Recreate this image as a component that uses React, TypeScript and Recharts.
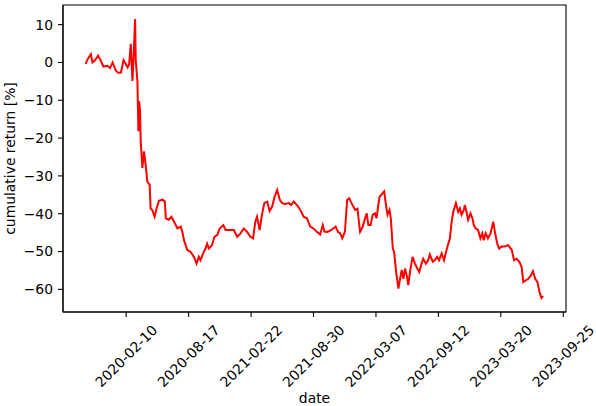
import React from "react";
import { LineChart, Line, XAxis, YAxis, ReferenceArea } from "recharts";

const dates: string[] = [
  "2019-10-11","2019-10-14","2019-10-26","2019-10-31","2019-11-07","2019-11-17","2019-11-25","2019-12-03","2019-12-16","2019-12-23",
  "2019-12-31","2020-01-10","2020-01-17","2020-01-25","2020-02-02","2020-02-09","2020-02-14","2020-02-19","2020-02-24","2020-02-29",
  "2020-03-03","2020-03-08","2020-03-10","2020-03-15","2020-03-18","2020-03-20","2020-03-23","2020-03-25","2020-03-30","2020-04-04",
  "2020-04-09","2020-04-14","2020-04-21","2020-04-24","2020-04-29","2020-05-06","2020-05-12","2020-05-19","2020-05-30","2020-06-06",
  "2020-06-09","2020-06-18","2020-06-26","2020-07-04","2020-07-14","2020-07-24","2020-07-29","2020-08-03","2020-08-13","2020-08-23",
  "2020-09-02","2020-09-10","2020-09-17","2020-09-22","2020-09-30","2020-10-07","2020-10-12","2020-10-17","2020-10-27","2020-11-03",
  "2020-11-12","2020-11-19","2020-11-30","2020-12-07","2020-12-17","2021-01-01","2021-01-11","2021-01-21","2021-01-31","2021-02-10",
  "2021-02-20","2021-02-28","2021-03-07","2021-03-12","2021-03-20","2021-03-27","2021-04-03","2021-04-12","2021-04-19","2021-04-27",
  "2021-05-04","2021-05-12","2021-05-20","2021-05-27","2021-06-06","2021-06-16","2021-06-23","2021-07-01","2021-07-11","2021-07-21",
  "2021-07-31","2021-08-10","2021-08-20","2021-08-30","2021-09-09","2021-09-19","2021-09-27","2021-10-02","2021-10-12","2021-10-23",
  "2021-11-05","2021-11-12","2021-11-19","2021-11-25","2021-12-03","2021-12-10","2021-12-16","2021-12-23","2022-01-03","2022-01-10",
  "2022-01-18","2022-01-26","2022-02-02","2022-02-07","2022-02-12","2022-02-19","2022-02-25","2022-03-04","2022-03-09","2022-03-14",
  "2022-03-18","2022-03-23","2022-04-01","2022-04-07","2022-04-11","2022-04-17","2022-04-21","2022-04-27","2022-05-01","2022-05-07",
  "2022-05-14","2022-05-19","2022-05-24","2022-05-29","2022-06-03","2022-06-08","2022-06-13","2022-06-18","2022-06-26","2022-07-03",
  "2022-07-10","2022-07-16","2022-07-23","2022-07-28","2022-08-05","2022-08-12","2022-08-17","2022-08-26","2022-09-01","2022-09-08",
  "2022-09-14","2022-09-22","2022-09-29","2022-10-05","2022-10-12","2022-10-17","2022-10-22","2022-10-27","2022-11-04","2022-11-11",
  "2022-11-16","2022-11-21","2022-11-28","2022-12-01","2022-12-06","2022-12-11","2022-12-18","2022-12-24","2022-12-28","2023-01-03",
  "2023-01-10","2023-01-17","2023-01-23","2023-01-27","2023-02-02","2023-02-09","2023-02-17","2023-02-25","2023-03-02","2023-03-09",
  "2023-03-15","2023-03-22","2023-04-01","2023-04-11","2023-04-22","2023-04-29","2023-05-07","2023-05-15","2023-05-22","2023-05-27",
  "2023-06-04","2023-06-11","2023-06-19","2023-06-25","2023-07-02","2023-07-09","2023-07-15","2023-07-21","2023-07-26",
];

const cumulativeReturn: number[] = [
  -0.4,0.5,2.2,0.0,0.5,1.8,0.5,-1.1,-0.9,-1.5,
  0.0,-2.2,-2.7,-2.7,0.6,-0.4,-1.3,-0.5,4.9,-4.9,
  0.5,11.5,0.5,-4.9,-18.2,-10.2,-12.8,-20.8,-27.9,-23.5,
  -27.0,-31.5,-32.3,-38.6,-39.0,-40.8,-38.6,-36.6,-36.3,-36.8,
  -41.2,-41.6,-40.8,-42.1,-43.9,-43.4,-44.8,-47.0,-49.6,-50.1,
  -51.4,-53.2,-51.4,-52.3,-50.5,-49.2,-47.9,-49.2,-48.3,-46.1,
  -45.6,-43.9,-43.0,-44.3,-44.3,-44.3,-46.1,-45.2,-43.9,-44.8,
  -46.1,-46.5,-42.1,-40.8,-44.3,-40.3,-37.2,-36.8,-39.3,-38.1,
  -35.5,-33.7,-36.3,-37.2,-37.4,-37.2,-37.7,-36.8,-37.7,-39.0,
  -40.8,-41.2,-43.4,-43.9,-44.8,-45.5,-43.0,-44.7,-44.8,-44.3,
  -43.4,-44.8,-45.2,-46.5,-44.8,-36.3,-35.9,-37.2,-39.0,-38.7,
  -44.8,-43.4,-41.2,-39.9,-43.0,-43.0,-40.3,-39.9,-41.2,-37.7,
  -35.5,-35.0,-34.1,-38.1,-40.3,-39.0,-41.2,-49.2,-50.1,-55.4,
  -59.8,-57.2,-54.9,-57.2,-54.5,-56.3,-58.9,-55.4,-51.4,-53.2,
  -54.5,-55.4,-53.2,-51.9,-53.2,-52.3,-50.8,-52.7,-52.3,-51.4,
  -52.3,-50.5,-52.3,-50.1,-47.9,-46.5,-42.1,-39.5,-37.2,-39.5,
  -38.6,-40.3,-39.0,-37.7,-39.5,-41.6,-39.9,-41.2,-43.0,-43.9,
  -44.3,-46.5,-45.2,-47.0,-45.2,-46.5,-45.2,-42.1,-44.8,-47.9,
  -49.2,-48.7,-48.7,-48.3,-49.6,-52.3,-51.9,-52.7,-54.1,-58.1,
  -57.6,-57.2,-56.3,-55.2,-57.2,-58.1,-60.7,-62.3,-61.8,
];

const xTickLabels: string[] = [
  "2020-02-10","2020-08-17","2021-02-22","2021-08-30","2022-03-07","2022-09-12","2023-03-20","2023-09-25",
];
const yTickValues: number[] = [-60, -50, -40, -30, -20, -10, 0, 10];

const data = dates.map((d, i) => ({ t: Date.parse(d), v: cumulativeReturn[i] }));
const xTicks = xTickLabels.map((d) => Date.parse(d));

const tMin = Math.min(...data.map((p) => p.t));
const tMax = Math.max(...data.map((p) => p.t));
const vMin = Math.min(...cumulativeReturn);
const vMax = Math.max(...cumulativeReturn);
const xPad = (tMax - tMin) * 0.05;
const yPad = (vMax - vMin) * 0.05;
const xDomain: [number, number] = [tMin - xPad, tMax + xPad];
const yDomain: [number, number] = [vMin - yPad, vMax + yPad];

const FONT = "'DejaVu Sans', sans-serif";
const FS = 13.9;

const fmtDate = (t: number) => new Date(t).toISOString().slice(0, 10);

const DateTick = (props: any) => {
  const { x, y, payload } = props;
  const cy = y + 34;
  return (
    <text
      x={x}
      y={cy}
      textAnchor="middle"
      dominantBaseline="central"
      fontFamily={FONT}
      fontSize={FS}
      fill="#000"
      transform={`rotate(-45, ${x}, ${cy})`}
    >
      {fmtDate(payload.value)}
    </text>
  );
};

const YLabel = (props: any) => {
  const vb = props.viewBox || {};
  const cy = (vb.y ?? 0) + (vb.height ?? 0) / 2;
  const x = 14.5;
  return (
    <text
      x={x}
      y={cy}
      textAnchor="middle"
      fontFamily={FONT}
      fontSize={FS}
      fill="#000"
      transform={`rotate(-90, ${x}, ${cy})`}
    >
      cumulative return [%]
    </text>
  );
};

const XLabel = (props: any) => {
  const vb = props.viewBox || {};
  const cx = (vb.x ?? 0) + (vb.width ?? 0) / 2;
  return (
    <text x={cx} y={403} textAnchor="middle" fontFamily={FONT} fontSize={FS} fill="#000">
      date
    </text>
  );
};

export default function App() {
  return (
    <div style={{ position: "absolute", left: 0, top: 0, width: 596, height: 406, background: "#fff" }}>
      <LineChart width={596} height={406} data={data} margin={{ top: 5, right: 30, left: 0, bottom: 0 }}>
        <XAxis
          dataKey="t"
          type="number"
          scale="linear"
          domain={xDomain}
          allowDataOverflow
          ticks={xTicks}
          interval={0}
          height={94}
          tickSize={5}
          tickMargin={5}
          tick={<DateTick />}
          axisLine={{ stroke: "#000", strokeWidth: 1.1 }}
          tickLine={{ stroke: "#000", strokeWidth: 1.1 }}
          label={<XLabel />}
        />
        <YAxis
          type="number"
          domain={yDomain}
          allowDataOverflow
          ticks={yTickValues}
          interval={0}
          width={63}
          tickSize={5}
          tickMargin={5}
          tickFormatter={(v: number) => String(v).replace("-", "\u2212")}
          tick={{ fontFamily: FONT, fontSize: FS, fill: "#000" }}
          axisLine={{ stroke: "#000", strokeWidth: 1.1 }}
          tickLine={{ stroke: "#000", strokeWidth: 1.1 }}
          label={<YLabel />}
        />
        <ReferenceArea
          x1={xDomain[0]}
          x2={xDomain[1]}
          y1={yDomain[0]}
          y2={yDomain[1]}
          fill="none"
          fillOpacity={0}
          stroke="#000"
          strokeWidth={1.1}
          ifOverflow="visible"
        />
        <Line
          type="linear"
          dataKey="v"
          stroke="#ff0000"
          strokeWidth={2}
          dot={false}
          isAnimationActive={false}
        />
      </LineChart>
    </div>
  );
}
